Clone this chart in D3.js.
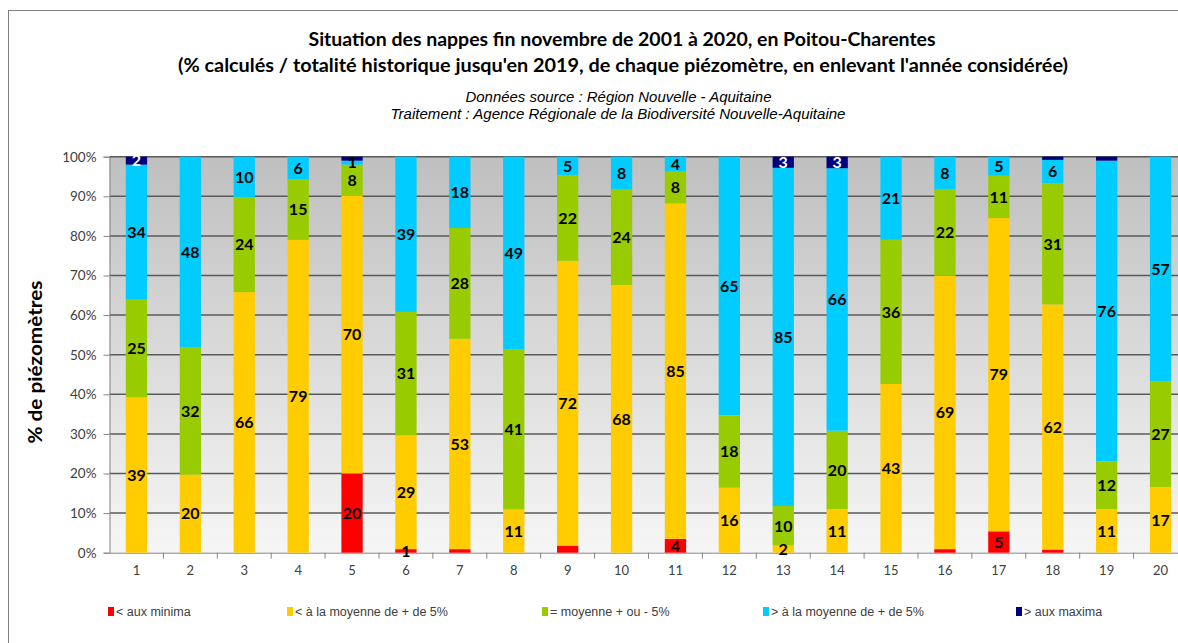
<!DOCTYPE html>
<html>
<head>
<meta charset="utf-8">
<script src="https://cdn.jsdelivr.net/npm/d3@7"></script>
<style>
  body { margin: 0; background: #fff; }
  svg { display: block; }
</style>
</head>
<body>
<div id="chart"></div>
<script>
// années 2001 → 2020 numérotées 1..20
const categories = ['1','2','3','4','5','6','7','8','9','10','11','12','13','14','15','16','17','18','19','20'];

// % de piézomètres par classe
const minima  = [0, 0, 0, 0, 20, 0.9, 0.9, 0, 1.8, 0, 3.5, 0, 0, 0, 0, 0.9, 5.4, 0.8, 0, 0];
const sousMoy = [39.2, 19.7, 65.8, 79, 70.2, 28.7, 53.1, 10.9, 71.9, 67.6, 84.7, 16.4, 1.8, 11, 42.6, 69.1, 79.1, 61.9, 11, 16.6];
const moyenne = [24.7, 32.2, 24, 15.3, 7.8, 31.2, 28, 40.5, 21.7, 24.2, 8.1, 18.3, 10, 19.8, 36.4, 21.8, 10.7, 30.6, 12.1, 26.6];
const surMoy  = [34.1, 48.1, 10.2, 5.7, 1.0, 39.2, 18, 48.6, 4.6, 8.2, 3.7, 65.3, 85.4, 66.3, 21, 8.2, 4.8, 5.9, 75.9, 56.8];
const maxima  = [2, 0, 0, 0, 1.0, 0, 0, 0, 0, 0, 0, 0, 2.8, 2.9, 0, 0, 0, 0.8, 1.0, 0];

const seriesNames = ['< aux minima', '< à la moyenne de + de 5%', '= moyenne + ou - 5%', '> à la moyenne de + de 5%', '> aux maxima'];
const seriesKeys = ['minima', 'sousMoy', 'moyenne', 'surMoy', 'maxima'];
const colors = ['#ff0000', '#ffcc00', '#99cc00', '#00ccff', '#000080'];
// étiquettes supprimées dans l'original : [série, indice de l'année]
const hiddenLabels = [['minima', 6], ['minima', 8], ['minima', 15], ['minima', 17], ['maxima', 4], ['maxima', 17], ['maxima', 18]];

const yTicks = [0, 10, 20, 30, 40, 50, 60, 70, 80, 90, 100];

const W = 1178, H = 643;
const m = { l: 109.5, r: 1187.5, t: 156.7, b: 552.7 };

const rows = categories.map((c, i) => ({
  cat: c, minima: minima[i], sousMoy: sousMoy[i], moyenne: moyenne[i], surMoy: surMoy[i], maxima: maxima[i]
}));
const stacked = d3.stack().keys(seriesKeys)(rows);

const svg = d3.select('#chart').append('svg').attr('width', W).attr('height', H);

// cadre du graphique
svg.append('rect').attr('x', 8.5).attr('y', 10.5).attr('width', 1260).attr('height', 700)
  .attr('fill', '#fff').attr('stroke', '#7f7f7f');

const grad = svg.append('defs').append('linearGradient').attr('id', 'bg')
  .attr('x1', 0).attr('y1', 0).attr('x2', 0).attr('y2', 1);
grad.append('stop').attr('offset', '0%').attr('stop-color', '#bfbfbf');
grad.append('stop').attr('offset', '100%').attr('stop-color', '#f6f6f6');

const x = d3.scaleBand().domain(categories).range([m.l, m.r]).paddingInner(0.605).paddingOuter(0.3025);
const y = d3.scaleLinear().domain([0, 100]).range([m.b, m.t]);

svg.append('rect').attr('x', m.l).attr('y', m.t).attr('width', m.r - m.l).attr('height', m.b - m.t)
  .attr('fill', 'url(#bg)');

// quadrillage
svg.append('g').selectAll('line').data(yTicks.filter(d => d > 0)).join('line')
  .attr('x1', m.l).attr('x2', m.r).attr('y1', d => y(d)).attr('y2', d => y(d))
  .attr('stroke', '#5a5a5a').attr('stroke-width', 1.5);

// axe Y
const yAxis = svg.append('g').attr('transform', `translate(${m.l},0)`)
  .call(d3.axisLeft(y).tickValues(yTicks).tickFormat(d => d + '%').tickSize(6).tickPadding(7));
yAxis.select('.domain').attr('stroke', '#868686');
yAxis.selectAll('.tick line').attr('stroke', '#868686');
yAxis.selectAll('text').attr('font-family', 'Lato, sans-serif').attr('font-size', 13.5).attr('fill', '#404040');

// axe X
const step = x.step();
const xAxis = svg.append('g').attr('transform', `translate(0,${m.b})`)
  .call(d3.axisBottom(x).tickSize(0).tickPadding(13));
xAxis.select('.domain').attr('stroke', '#868686');
xAxis.selectAll('text').attr('font-family', 'Lato, sans-serif').attr('font-size', 13).attr('fill', '#404040');
svg.append('g').selectAll('line').data(categories).join('line')
  .attr('x1', d => x(d) + x.bandwidth() / 2 + step / 2).attr('x2', d => x(d) + x.bandwidth() / 2 + step / 2)
  .attr('y1', m.b).attr('y2', m.b + 6).attr('stroke', '#868686');

// barres empilées
const layers = svg.append('g').selectAll('g').data(stacked).join('g')
  .attr('fill', (d, i) => colors[i]);
layers.selectAll('rect').data(d => d).join('rect')
  .attr('x', d => x(d.data.cat)).attr('width', x.bandwidth())
  .attr('y', d => y(d[1])).attr('height', d => y(d[0]) - y(d[1]));

// étiquettes de données
const isHidden = (key, i) => hiddenLabels.some(h => h[0] === key && h[1] === i);
const labels = svg.append('g').attr('font-family', 'Lato, sans-serif').attr('font-weight', 'bold')
  .attr('font-size', 16).attr('text-anchor', 'middle');
stacked.forEach((s, si) => {
  s.forEach((d, i) => {
    const v = d[1] - d[0];
    if (v <= 0 || isHidden(s.key, i)) return;
    labels.append('text')
      .attr('x', x(d.data.cat) + x.bandwidth() / 2)
      .attr('y', y((d[0] + d[1]) / 2))
      .attr('dy', '0.36em')
      .attr('fill', s.key === 'maxima' ? '#fff' : '#000')
      .text(d3.format('.0f')(v));
  });
});

// titres
const titles = svg.append('g').attr('text-anchor', 'middle');
titles.append('text').attr('x', 622).attr('y', 46)
  .attr('font-family', 'Lato, sans-serif').attr('font-weight', 'bold').attr('font-size', 19).attr('fill', '#000')
  .attr('textLength', 627).attr('lengthAdjust', 'spacingAndGlyphs')
  .text('Situation des nappes fin novembre de 2001 à 2020, en Poitou-Charentes');
titles.append('text').attr('x', 623).attr('y', 72)
  .attr('font-family', 'Lato, sans-serif').attr('font-weight', 'bold').attr('font-size', 19).attr('fill', '#000')
  .attr('textLength', 890).attr('lengthAdjust', 'spacingAndGlyphs')
  .text("(% calculés / totalité historique jusqu'en 2019, de chaque piézomètre,  en enlevant l'année considérée)");
titles.append('text').attr('x', 618.5).attr('y', 102)
  .attr('font-family', 'Liberation Sans, Arial, sans-serif').attr('font-style', 'italic').attr('font-size', 14).attr('fill', '#000')
  .attr('textLength', 306).attr('lengthAdjust', 'spacingAndGlyphs')
  .text('Données source : Région Nouvelle - Aquitaine');
titles.append('text').attr('x', 618).attr('y', 119)
  .attr('font-family', 'Liberation Sans, Arial, sans-serif').attr('font-style', 'italic').attr('font-size', 14).attr('fill', '#000')
  .attr('textLength', 455).attr('lengthAdjust', 'spacingAndGlyphs')
  .text('Traitement : Agence Régionale de la Biodiversité Nouvelle-Aquitaine');

// titre de l'axe Y
svg.append('text').attr('transform', 'translate(42,362) rotate(-90)').attr('text-anchor', 'middle')
  .attr('font-family', 'Lato, sans-serif').attr('font-weight', 'bold').attr('font-size', 18).attr('fill', '#000')
  .attr('textLength', 163).attr('lengthAdjust', 'spacingAndGlyphs')
  .text('% de piézomètres');

// légende
const legendX = [108, 287, 542, 763, 1016];
const legend = svg.append('g').selectAll('g').data(seriesNames).join('g')
  .attr('transform', (d, i) => `translate(${legendX[i]},612)`);
legend.append('rect').attr('x', 0).attr('y', -5).attr('width', 6).attr('height', 9)
  .attr('fill', (d, i) => colors[i]);
legend.append('text').attr('x', 8).attr('y', 0).attr('dy', '0.35em')
  .attr('font-family', 'Liberation Sans Narrow, Arial Narrow, sans-serif').attr('font-size', 12.5).attr('fill', '#404040')
  .text(d => d);
</script>
</body>
</html>
